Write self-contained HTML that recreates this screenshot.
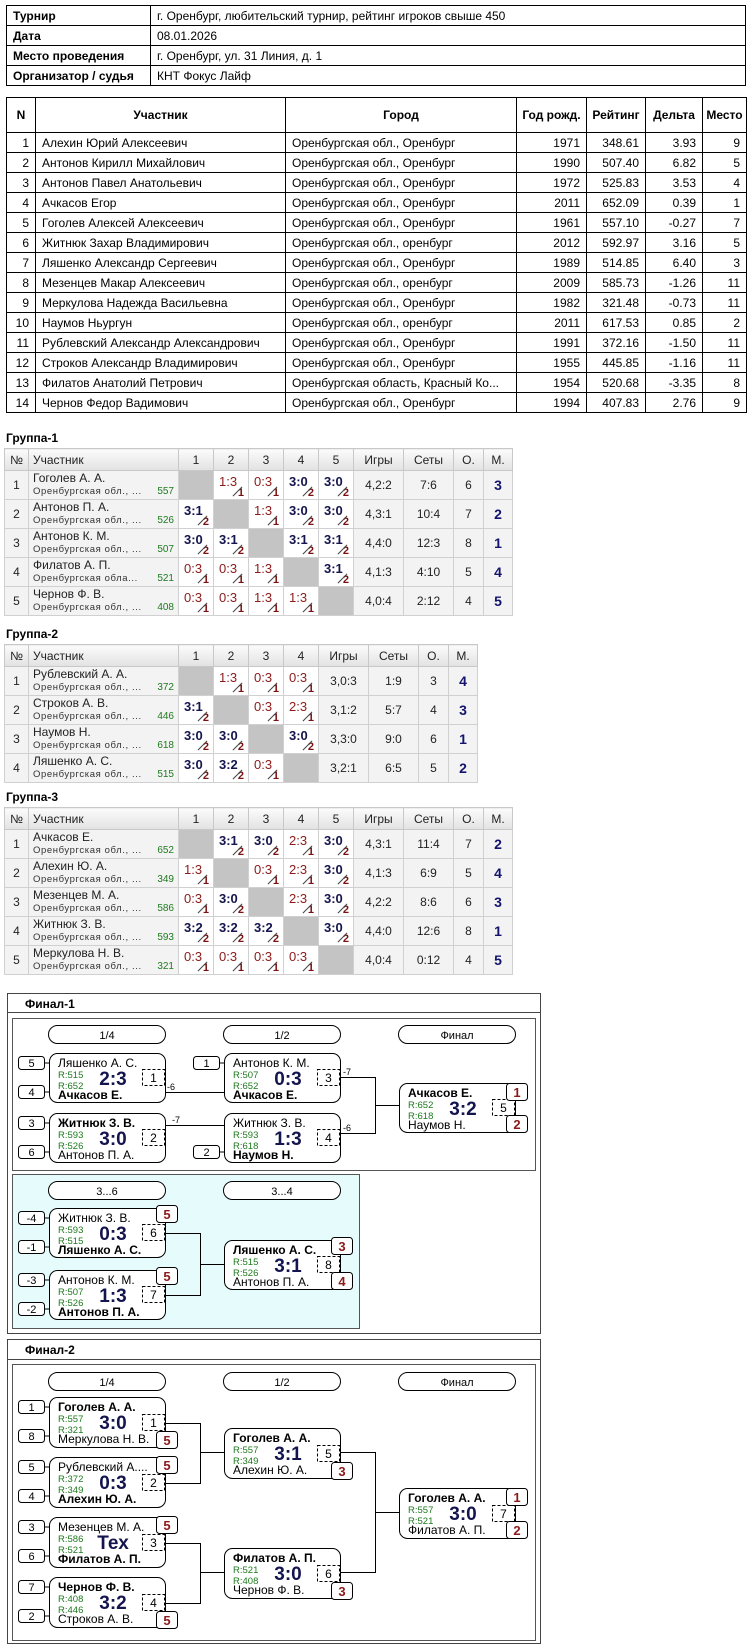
<!DOCTYPE html>
<html><head><meta charset="utf-8">
<style>
body{margin:0;background:#fff;font-family:"Liberation Sans",sans-serif;}
#pg{position:relative;width:750px;height:1647px;overflow:hidden;}
table{border-collapse:collapse;table-layout:fixed;}
.it{position:absolute;left:6px;top:5px;width:740px;font-size:12px;}
.it td{border:1px solid #000;height:19px;padding:0 6px;}
.it td.l{font-weight:bold;}
.pt{position:absolute;left:6px;top:97px;width:740px;font-size:12px;}
.pt th{border:1px solid #000;height:32px;font-weight:bold;}
.pt td{border:1px solid #000;height:19px;padding:0 6px;white-space:nowrap;overflow:hidden;}
.pt td.r{text-align:right;}
.ttl{position:absolute;left:6px;font:bold 12px "Liberation Sans",sans-serif;}
.gt{position:absolute;left:4px;font-size:12px;border:1px solid #aaa;color:#222;}
.gt th{height:21px;font-weight:normal;background:linear-gradient(#fbfbfb,#e2e2e2);border:1px solid #c8c8c8;padding:0;}
.gt th.nl{text-align:left;padding-left:4px;}
.gt td{height:28px;border:1px solid #d0d0d0;background:#f3f3f3;text-align:center;padding:0;}
.gt td.nm{text-align:left;padding:0 4px;line-height:13px;}
.nm .b{font-size:9.5px;letter-spacing:.6px;color:#333;}
.nm .b span{float:right;color:#1e7a1e;letter-spacing:0;font-size:10px;}
.gt td.x{background:#c4c4c4;}
.gt td.g{background:#fff;position:relative;}
.g .s{position:absolute;left:5px;top:3px;font-size:13px;color:#8b1a1a;}
.g.w .s{font-weight:bold;color:#14144e;}
.g .d{position:absolute;right:4px;bottom:0px;font-size:11px;font-weight:bold;color:#7a1010;}
.g:after{content:"";position:absolute;left:17px;top:20px;width:13px;height:1px;background:#444;transform:rotate(-45deg);}
.gt td.m{font-weight:bold;color:#14146e;font-size:14px;}
svg{position:absolute;left:0;top:0;}
svg text{font-family:"Liberation Sans",sans-serif;}
.mb{fill:#fff;stroke:#000;stroke-width:1;}
.n{font-size:12px;fill:#000;}
.nb{font-size:12px;font-weight:bold;fill:#000;}
.rt{font-size:9.5px;fill:#1e7a1e;}
.sc{font-size:19px;font-weight:bold;fill:#14144e;text-anchor:middle;}
.db{fill:#fff;stroke:#000;stroke-dasharray:3,2;}
.dn{font-size:12px;text-anchor:middle;}
.sd{fill:#fff;stroke:#000;}
.sdt{font-size:11px;text-anchor:middle;}
.pl{fill:#fff;stroke:#000;}
.plt{font-size:13px;font-weight:bold;fill:#8b1a1a;text-anchor:middle;}
.ln{stroke:#000;fill:none;}
.lb{font-size:9px;}
.ph{fill:#fff;stroke:#000;}
.pht{font-size:11px;text-anchor:middle;}
</style></head><body><div id="pg">

<table class="it">
<col style="width:144px"><col>
<tr><td class="l">Турнир</td><td>г. Оренбург, любительский турнир, рейтинг игроков свыше 450</td></tr>
<tr><td class="l">Дата</td><td>08.01.2026</td></tr>
<tr><td class="l">Место проведения</td><td>г. Оренбург, ул. 31 Линия, д. 1</td></tr>
<tr><td class="l">Организатор / судья</td><td>КНТ Фокус Лайф</td></tr>
</table>

<table class="pt">
<col style="width:29px"><col style="width:250px"><col style="width:231px"><col style="width:70px"><col style="width:59px"><col style="width:57px"><col style="width:44px">
<tr><th>N</th><th>Участник</th><th>Город</th><th>Год рожд.</th><th>Рейтинг</th><th>Дельта</th><th>Место</th></tr>
<tr><td class="r">1</td><td>Алехин Юрий Алексеевич</td><td>Оренбургская обл., Оренбург</td><td class="r">1971</td><td class="r">348.61</td><td class="r">3.93</td><td class="r">9</td></tr>
<tr><td class="r">2</td><td>Антонов Кирилл Михайлович</td><td>Оренбургская обл., Оренбург</td><td class="r">1990</td><td class="r">507.40</td><td class="r">6.82</td><td class="r">5</td></tr>
<tr><td class="r">3</td><td>Антонов Павел Анатольевич</td><td>Оренбургская обл., Оренбург</td><td class="r">1972</td><td class="r">525.83</td><td class="r">3.53</td><td class="r">4</td></tr>
<tr><td class="r">4</td><td>Ачкасов Егор</td><td>Оренбургская обл., Оренбург</td><td class="r">2011</td><td class="r">652.09</td><td class="r">0.39</td><td class="r">1</td></tr>
<tr><td class="r">5</td><td>Гоголев Алексей Алексеевич</td><td>Оренбургская обл., Оренбург</td><td class="r">1961</td><td class="r">557.10</td><td class="r">-0.27</td><td class="r">7</td></tr>
<tr><td class="r">6</td><td>Житнюк Захар Владимирович</td><td>Оренбургская обл., оренбург</td><td class="r">2012</td><td class="r">592.97</td><td class="r">3.16</td><td class="r">5</td></tr>
<tr><td class="r">7</td><td>Ляшенко Александр Сергеевич</td><td>Оренбургская обл., Оренбург</td><td class="r">1989</td><td class="r">514.85</td><td class="r">6.40</td><td class="r">3</td></tr>
<tr><td class="r">8</td><td>Мезенцев Макар Алексеевич</td><td>Оренбургская обл., оренбург</td><td class="r">2009</td><td class="r">585.73</td><td class="r">-1.26</td><td class="r">11</td></tr>
<tr><td class="r">9</td><td>Меркулова Надежда Васильевна</td><td>Оренбургская обл., Оренбург</td><td class="r">1982</td><td class="r">321.48</td><td class="r">-0.73</td><td class="r">11</td></tr>
<tr><td class="r">10</td><td>Наумов Ньургун</td><td>Оренбургская обл., оренбург</td><td class="r">2011</td><td class="r">617.53</td><td class="r">0.85</td><td class="r">2</td></tr>
<tr><td class="r">11</td><td>Рублевский Александр Александрович</td><td>Оренбургская обл., Оренбург</td><td class="r">1991</td><td class="r">372.16</td><td class="r">-1.50</td><td class="r">11</td></tr>
<tr><td class="r">12</td><td>Строков Александр Владимирович</td><td>Оренбургская обл., Оренбург</td><td class="r">1955</td><td class="r">445.85</td><td class="r">-1.16</td><td class="r">11</td></tr>
<tr><td class="r">13</td><td>Филатов Анатолий Петрович</td><td>Оренбургская область, Красный Ко...</td><td class="r">1954</td><td class="r">520.68</td><td class="r">-3.35</td><td class="r">8</td></tr>
<tr><td class="r">14</td><td>Чернов Федор Вадимович</td><td>Оренбургская обл., Оренбург</td><td class="r">1994</td><td class="r">407.83</td><td class="r">2.76</td><td class="r">9</td></tr>
</table>

<div class="ttl" style="top:431px">Группа-1</div>
<table class="gt" style="top:448px;width:508px">
<col style="width:24px"><col style="width:150px"><col style="width:35px"><col style="width:35px"><col style="width:35px"><col style="width:35px"><col style="width:35px"><col style="width:50px"><col style="width:50px"><col style="width:30px"><col style="width:29px">
<tr><th>№</th><th class="nl">Участник</th><th>1</th><th>2</th><th>3</th><th>4</th><th>5</th><th>Игры</th><th>Сеты</th><th>О.</th><th>М.</th></tr>
<tr><td>1</td><td class="nm"><div>Гоголев А. А.</div><div class="b">Оренбургская обл., ...<span>557</span></div></td><td class="x"></td><td class="g"><span class="s">1:3</span><span class="d">1</span></td><td class="g"><span class="s">0:3</span><span class="d">1</span></td><td class="g w"><span class="s">3:0</span><span class="d">2</span></td><td class="g w"><span class="s">3:0</span><span class="d">2</span></td><td>4,2:2</td><td>7:6</td><td>6</td><td class="m">3</td></tr>
<tr><td>2</td><td class="nm"><div>Антонов П. А.</div><div class="b">Оренбургская обл., ...<span>526</span></div></td><td class="g w"><span class="s">3:1</span><span class="d">2</span></td><td class="x"></td><td class="g"><span class="s">1:3</span><span class="d">1</span></td><td class="g w"><span class="s">3:0</span><span class="d">2</span></td><td class="g w"><span class="s">3:0</span><span class="d">2</span></td><td>4,3:1</td><td>10:4</td><td>7</td><td class="m">2</td></tr>
<tr><td>3</td><td class="nm"><div>Антонов К. М.</div><div class="b">Оренбургская обл., ...<span>507</span></div></td><td class="g w"><span class="s">3:0</span><span class="d">2</span></td><td class="g w"><span class="s">3:1</span><span class="d">2</span></td><td class="x"></td><td class="g w"><span class="s">3:1</span><span class="d">2</span></td><td class="g w"><span class="s">3:1</span><span class="d">2</span></td><td>4,4:0</td><td>12:3</td><td>8</td><td class="m">1</td></tr>
<tr><td>4</td><td class="nm"><div>Филатов А. П.</div><div class="b">Оренбургская обла...<span>521</span></div></td><td class="g"><span class="s">0:3</span><span class="d">1</span></td><td class="g"><span class="s">0:3</span><span class="d">1</span></td><td class="g"><span class="s">1:3</span><span class="d">1</span></td><td class="x"></td><td class="g w"><span class="s">3:1</span><span class="d">2</span></td><td>4,1:3</td><td>4:10</td><td>5</td><td class="m">4</td></tr>
<tr><td>5</td><td class="nm"><div>Чернов Ф. В.</div><div class="b">Оренбургская обл., ...<span>408</span></div></td><td class="g"><span class="s">0:3</span><span class="d">1</span></td><td class="g"><span class="s">0:3</span><span class="d">1</span></td><td class="g"><span class="s">1:3</span><span class="d">1</span></td><td class="g"><span class="s">1:3</span><span class="d">1</span></td><td class="x"></td><td>4,0:4</td><td>2:12</td><td>4</td><td class="m">5</td></tr>
</table>

<div class="ttl" style="top:627px">Группа-2</div>
<table class="gt" style="top:644px;width:473px">
<col style="width:24px"><col style="width:150px"><col style="width:35px"><col style="width:35px"><col style="width:35px"><col style="width:35px"><col style="width:50px"><col style="width:50px"><col style="width:30px"><col style="width:29px">
<tr><th>№</th><th class="nl">Участник</th><th>1</th><th>2</th><th>3</th><th>4</th><th>Игры</th><th>Сеты</th><th>О.</th><th>М.</th></tr>
<tr><td>1</td><td class="nm"><div>Рублевский А. А.</div><div class="b">Оренбургская обл., ...<span>372</span></div></td><td class="x"></td><td class="g"><span class="s">1:3</span><span class="d">1</span></td><td class="g"><span class="s">0:3</span><span class="d">1</span></td><td class="g"><span class="s">0:3</span><span class="d">1</span></td><td>3,0:3</td><td>1:9</td><td>3</td><td class="m">4</td></tr>
<tr><td>2</td><td class="nm"><div>Строков А. В.</div><div class="b">Оренбургская обл., ...<span>446</span></div></td><td class="g w"><span class="s">3:1</span><span class="d">2</span></td><td class="x"></td><td class="g"><span class="s">0:3</span><span class="d">1</span></td><td class="g"><span class="s">2:3</span><span class="d">1</span></td><td>3,1:2</td><td>5:7</td><td>4</td><td class="m">3</td></tr>
<tr><td>3</td><td class="nm"><div>Наумов Н.</div><div class="b">Оренбургская обл., ...<span>618</span></div></td><td class="g w"><span class="s">3:0</span><span class="d">2</span></td><td class="g w"><span class="s">3:0</span><span class="d">2</span></td><td class="x"></td><td class="g w"><span class="s">3:0</span><span class="d">2</span></td><td>3,3:0</td><td>9:0</td><td>6</td><td class="m">1</td></tr>
<tr><td>4</td><td class="nm"><div>Ляшенко А. С.</div><div class="b">Оренбургская обл., ...<span>515</span></div></td><td class="g w"><span class="s">3:0</span><span class="d">2</span></td><td class="g w"><span class="s">3:2</span><span class="d">2</span></td><td class="g"><span class="s">0:3</span><span class="d">1</span></td><td class="x"></td><td>3,2:1</td><td>6:5</td><td>5</td><td class="m">2</td></tr>
</table>

<div class="ttl" style="top:790px">Группа-3</div>
<table class="gt" style="top:807px;width:508px">
<col style="width:24px"><col style="width:150px"><col style="width:35px"><col style="width:35px"><col style="width:35px"><col style="width:35px"><col style="width:35px"><col style="width:50px"><col style="width:50px"><col style="width:30px"><col style="width:29px">
<tr><th>№</th><th class="nl">Участник</th><th>1</th><th>2</th><th>3</th><th>4</th><th>5</th><th>Игры</th><th>Сеты</th><th>О.</th><th>М.</th></tr>
<tr><td>1</td><td class="nm"><div>Ачкасов Е.</div><div class="b">Оренбургская обл., ...<span>652</span></div></td><td class="x"></td><td class="g w"><span class="s">3:1</span><span class="d">2</span></td><td class="g w"><span class="s">3:0</span><span class="d">2</span></td><td class="g"><span class="s">2:3</span><span class="d">1</span></td><td class="g w"><span class="s">3:0</span><span class="d">2</span></td><td>4,3:1</td><td>11:4</td><td>7</td><td class="m">2</td></tr>
<tr><td>2</td><td class="nm"><div>Алехин Ю. А.</div><div class="b">Оренбургская обл., ...<span>349</span></div></td><td class="g"><span class="s">1:3</span><span class="d">1</span></td><td class="x"></td><td class="g"><span class="s">0:3</span><span class="d">1</span></td><td class="g"><span class="s">2:3</span><span class="d">1</span></td><td class="g w"><span class="s">3:0</span><span class="d">2</span></td><td>4,1:3</td><td>6:9</td><td>5</td><td class="m">4</td></tr>
<tr><td>3</td><td class="nm"><div>Мезенцев М. А.</div><div class="b">Оренбургская обл., ...<span>586</span></div></td><td class="g"><span class="s">0:3</span><span class="d">1</span></td><td class="g w"><span class="s">3:0</span><span class="d">2</span></td><td class="x"></td><td class="g"><span class="s">2:3</span><span class="d">1</span></td><td class="g w"><span class="s">3:0</span><span class="d">2</span></td><td>4,2:2</td><td>8:6</td><td>6</td><td class="m">3</td></tr>
<tr><td>4</td><td class="nm"><div>Житнюк З. В.</div><div class="b">Оренбургская обл., ...<span>593</span></div></td><td class="g w"><span class="s">3:2</span><span class="d">2</span></td><td class="g w"><span class="s">3:2</span><span class="d">2</span></td><td class="g w"><span class="s">3:2</span><span class="d">2</span></td><td class="x"></td><td class="g w"><span class="s">3:0</span><span class="d">2</span></td><td>4,4:0</td><td>12:6</td><td>8</td><td class="m">1</td></tr>
<tr><td>5</td><td class="nm"><div>Меркулова Н. В.</div><div class="b">Оренбургская обл., ...<span>321</span></div></td><td class="g"><span class="s">0:3</span><span class="d">1</span></td><td class="g"><span class="s">0:3</span><span class="d">1</span></td><td class="g"><span class="s">0:3</span><span class="d">1</span></td><td class="g"><span class="s">0:3</span><span class="d">1</span></td><td class="x"></td><td>4,0:4</td><td>0:12</td><td>4</td><td class="m">5</td></tr>
</table>

<svg width="750" height="1647" viewBox="0 0 750 1647">
<rect x="7.5" y="993.5" width="533" height="340" fill="#fff" stroke="#444"/>
<text x="25" y="1008" font-size="12" font-weight="bold">Финал-1</text>
<line x1="7" y1="1012.5" x2="540" y2="1012.5" stroke="#444"/>
<rect x="12.5" y="1018.5" width="523" height="152" fill="#fff" stroke="#555"/>
<rect x="12.5" y="1174.5" width="347" height="154" fill="#e6fbfb" stroke="#555"/>

<rect class="ph" x="48.5" y="1025.5" width="117" height="18" rx="9"/><text class="pht" x="107" y="1039">1/4</text>
<rect class="ph" x="223.5" y="1025.5" width="117" height="18" rx="9"/><text class="pht" x="282" y="1039">1/2</text>
<rect class="ph" x="398.5" y="1025.5" width="117" height="18" rx="9"/><text class="pht" x="457" y="1039">Финал</text>

<g transform="translate(49,1053)">
<rect class="sd" x="-30.5" y="3.5" width="26" height="13" rx="3"/><text class="sdt" x="-17.5" y="14">5</text>
<rect class="sd" x="-30.5" y="32.5" width="26" height="13" rx="3"/><text class="sdt" x="-17.5" y="43">4</text>
<line class="ln" x1="-4" y1="10" x2="0" y2="10"/><line class="ln" x1="-4" y1="39" x2="0" y2="39"/>
<rect class="mb" x="0.5" y="0.5" width="116" height="49" rx="8"/>
<text class="n" x="9" y="14">Ляшенко А. С.</text><text class="rt" x="9" y="25">R:515</text><text class="rt" x="9" y="36">R:652</text><text class="nb" x="9" y="46">Ачкасов Е.</text>
<text class="sc" x="64" y="32">2:3</text>
<rect class="db" x="93.5" y="16.5" width="22" height="16"/><text class="dn" x="104.5" y="29">1</text>
</g>
<g transform="translate(49,1113)">
<rect class="sd" x="-30.5" y="3.5" width="26" height="13" rx="3"/><text class="sdt" x="-17.5" y="14">3</text>
<rect class="sd" x="-30.5" y="32.5" width="26" height="13" rx="3"/><text class="sdt" x="-17.5" y="43">6</text>
<line class="ln" x1="-4" y1="10" x2="0" y2="10"/><line class="ln" x1="-4" y1="39" x2="0" y2="39"/>
<rect class="mb" x="0.5" y="0.5" width="116" height="49" rx="8"/>
<text class="nb" x="9" y="14">Житнюк З. В.</text><text class="rt" x="9" y="25">R:593</text><text class="rt" x="9" y="36">R:526</text><text class="n" x="9" y="46">Антонов П. А.</text>
<text class="sc" x="64" y="32">3:0</text>
<rect class="db" x="93.5" y="16.5" width="22" height="16"/><text class="dn" x="104.5" y="29">2</text>
</g>
<g transform="translate(224,1053)">
<rect class="sd" x="-30.5" y="3.5" width="26" height="13" rx="3"/><text class="sdt" x="-17.5" y="14">1</text>
<line class="ln" x1="-4" y1="10" x2="0" y2="10"/>
<rect class="mb" x="0.5" y="0.5" width="116" height="49" rx="8"/>
<text class="n" x="9" y="14">Антонов К. М.</text><text class="rt" x="9" y="25">R:507</text><text class="rt" x="9" y="36">R:652</text><text class="nb" x="9" y="46">Ачкасов Е.</text>
<text class="sc" x="64" y="32">0:3</text>
<rect class="db" x="93.5" y="16.5" width="22" height="16"/><text class="dn" x="104.5" y="29">3</text>
</g>
<g transform="translate(224,1113)">
<rect class="sd" x="-30.5" y="32.5" width="26" height="13" rx="3"/><text class="sdt" x="-17.5" y="43">2</text>
<line class="ln" x1="-4" y1="39" x2="0" y2="39"/>
<rect class="mb" x="0.5" y="0.5" width="116" height="49" rx="8"/>
<text class="n" x="9" y="14">Житнюк З. В.</text><text class="rt" x="9" y="25">R:593</text><text class="rt" x="9" y="36">R:618</text><text class="nb" x="9" y="46">Наумов Н.</text>
<text class="sc" x="64" y="32">1:3</text>
<rect class="db" x="93.5" y="16.5" width="22" height="16"/><text class="dn" x="104.5" y="29">4</text>
</g>
<g transform="translate(399,1083)">
<rect class="mb" x="0.5" y="0.5" width="116" height="49" rx="8"/>
<text class="nb" x="9" y="14">Ачкасов Е.</text><text class="rt" x="9" y="25">R:652</text><text class="rt" x="9" y="36">R:618</text><text class="n" x="9" y="46">Наумов Н.</text>
<text class="sc" x="64" y="32">3:2</text>
<rect class="db" x="93.5" y="16.5" width="22" height="16"/><text class="dn" x="104.5" y="29">5</text>
<rect class="pl" x="107.5" y="0.5" width="21" height="17" rx="3"/><text class="plt" x="118" y="14">1</text>
<rect class="pl" x="107.5" y="32.5" width="21" height="17" rx="3"/><text class="plt" x="118" y="46">2</text>
</g>
<path class="ln" d="M165 1092.5H224 M165 1125.5H224 M340 1077.5H375.5V1133.5H340 M375 1105.5H399"/>
<text class="lb" x="167" y="1090">-6</text><text class="lb" x="172" y="1123">-7</text>
<text class="lb" x="343" y="1075">-7</text><text class="lb" x="343" y="1131">-6</text>

<rect class="ph" x="48.5" y="1181.5" width="117" height="18" rx="9"/><text class="pht" x="107" y="1195">3...6</text>
<rect class="ph" x="223.5" y="1181.5" width="117" height="18" rx="9"/><text class="pht" x="282" y="1195">3...4</text>
<g transform="translate(49,1208)">
<rect class="sd" x="-30.5" y="3.5" width="26" height="13" rx="3"/><text class="sdt" x="-17.5" y="14">-4</text>
<rect class="sd" x="-30.5" y="32.5" width="26" height="13" rx="3"/><text class="sdt" x="-17.5" y="43">-1</text>
<line class="ln" x1="-4" y1="10" x2="0" y2="10"/><line class="ln" x1="-4" y1="39" x2="0" y2="39"/>
<rect class="mb" x="0.5" y="0.5" width="116" height="49" rx="8"/>
<text class="n" x="9" y="14">Житнюк З. В.</text><text class="rt" x="9" y="25">R:593</text><text class="rt" x="9" y="36">R:515</text><text class="nb" x="9" y="46">Ляшенко А. С.</text>
<text class="sc" x="64" y="32">0:3</text>
<rect class="db" x="93.5" y="16.5" width="22" height="16"/><text class="dn" x="104.5" y="29">6</text>
<rect class="pl" x="107.5" y="-2.5" width="21" height="17" rx="3"/><text class="plt" x="118" y="11">5</text>
</g>
<g transform="translate(49,1270)">
<rect class="sd" x="-30.5" y="3.5" width="26" height="13" rx="3"/><text class="sdt" x="-17.5" y="14">-3</text>
<rect class="sd" x="-30.5" y="32.5" width="26" height="13" rx="3"/><text class="sdt" x="-17.5" y="43">-2</text>
<line class="ln" x1="-4" y1="10" x2="0" y2="10"/><line class="ln" x1="-4" y1="39" x2="0" y2="39"/>
<rect class="mb" x="0.5" y="0.5" width="116" height="49" rx="8"/>
<text class="n" x="9" y="14">Антонов К. М.</text><text class="rt" x="9" y="25">R:507</text><text class="rt" x="9" y="36">R:526</text><text class="nb" x="9" y="46">Антонов П. А.</text>
<text class="sc" x="64" y="32">1:3</text>
<rect class="db" x="93.5" y="16.5" width="22" height="16"/><text class="dn" x="104.5" y="29">7</text>
<rect class="pl" x="107.5" y="-2.5" width="21" height="17" rx="3"/><text class="plt" x="118" y="11">5</text>
</g>
<g transform="translate(224,1240)">
<rect class="mb" x="0.5" y="0.5" width="116" height="49" rx="8"/>
<text class="nb" x="9" y="14">Ляшенко А. С.</text><text class="rt" x="9" y="25">R:515</text><text class="rt" x="9" y="36">R:526</text><text class="n" x="9" y="46">Антонов П. А.</text>
<text class="sc" x="64" y="32">3:1</text>
<rect class="db" x="93.5" y="16.5" width="22" height="16"/><text class="dn" x="104.5" y="29">8</text>
<rect class="pl" x="107.5" y="-2.5" width="21" height="17" rx="3"/><text class="plt" x="118" y="11">3</text>
<rect class="pl" x="107.5" y="32.5" width="21" height="17" rx="3"/><text class="plt" x="118" y="46">4</text>
</g>
<path class="ln" d="M165 1233.5H200.5V1295.5H165 M200 1264.5H224"/>

<rect x="7.5" y="1339.5" width="533" height="304" fill="#fff" stroke="#444"/>
<text x="25" y="1354" font-size="12" font-weight="bold">Финал-2</text>
<line x1="7" y1="1359.5" x2="540" y2="1359.5" stroke="#444"/>
<rect x="12.5" y="1364.5" width="523" height="276" fill="#fff" stroke="#555"/>
<rect class="ph" x="48.5" y="1372.5" width="117" height="18" rx="9"/><text class="pht" x="107" y="1386">1/4</text>
<rect class="ph" x="223.5" y="1372.5" width="117" height="18" rx="9"/><text class="pht" x="282" y="1386">1/2</text>
<rect class="ph" x="398.5" y="1372.5" width="117" height="18" rx="9"/><text class="pht" x="457" y="1386">Финал</text>

<g transform="translate(49,1397)">
<rect class="sd" x="-30.5" y="3.5" width="26" height="13" rx="3"/><text class="sdt" x="-17.5" y="14">1</text>
<rect class="sd" x="-30.5" y="32.5" width="26" height="13" rx="3"/><text class="sdt" x="-17.5" y="43">8</text>
<line class="ln" x1="-4" y1="10" x2="0" y2="10"/><line class="ln" x1="-4" y1="39" x2="0" y2="39"/>
<rect class="mb" x="0.5" y="0.5" width="116" height="50" rx="8"/>
<text class="nb" x="9" y="14">Гоголев А. А.</text><text class="rt" x="9" y="25">R:557</text><text class="rt" x="9" y="36">R:321</text><text class="n" x="9" y="46">Меркулова Н. В.</text>
<text class="sc" x="64" y="32">3:0</text>
<rect class="db" x="93.5" y="17.5" width="22" height="16"/><text class="dn" x="104.5" y="30">1</text>
<rect class="pl" x="107.5" y="34.5" width="21" height="17" rx="3"/><text class="plt" x="118" y="48">5</text>
</g>
<g transform="translate(49,1457)">
<rect class="sd" x="-30.5" y="3.5" width="26" height="13" rx="3"/><text class="sdt" x="-17.5" y="14">5</text>
<rect class="sd" x="-30.5" y="32.5" width="26" height="13" rx="3"/><text class="sdt" x="-17.5" y="43">4</text>
<line class="ln" x1="-4" y1="10" x2="0" y2="10"/><line class="ln" x1="-4" y1="39" x2="0" y2="39"/>
<rect class="mb" x="0.5" y="0.5" width="116" height="50" rx="8"/>
<text class="n" x="9" y="14">Рублевский А....</text><text class="rt" x="9" y="25">R:372</text><text class="rt" x="9" y="36">R:349</text><text class="nb" x="9" y="46">Алехин Ю. А.</text>
<text class="sc" x="64" y="32">0:3</text>
<rect class="db" x="93.5" y="17.5" width="22" height="16"/><text class="dn" x="104.5" y="30">2</text>
<rect class="pl" x="107.5" y="-0.5" width="21" height="17" rx="3"/><text class="plt" x="118" y="13">5</text>
</g>
<g transform="translate(49,1517)">
<rect class="sd" x="-30.5" y="3.5" width="26" height="13" rx="3"/><text class="sdt" x="-17.5" y="14">3</text>
<rect class="sd" x="-30.5" y="32.5" width="26" height="13" rx="3"/><text class="sdt" x="-17.5" y="43">6</text>
<line class="ln" x1="-4" y1="10" x2="0" y2="10"/><line class="ln" x1="-4" y1="39" x2="0" y2="39"/>
<rect class="mb" x="0.5" y="0.5" width="116" height="50" rx="8"/>
<text class="n" x="9" y="14">Мезенцев М. А.</text><text class="rt" x="9" y="25">R:586</text><text class="rt" x="9" y="36">R:521</text><text class="nb" x="9" y="46">Филатов А. П.</text>
<text class="sc" x="64" y="32">Тех</text>
<rect class="db" x="93.5" y="17.5" width="22" height="16"/><text class="dn" x="104.5" y="30">3</text>
<rect class="pl" x="107.5" y="-0.5" width="21" height="17" rx="3"/><text class="plt" x="118" y="13">5</text>
</g>
<g transform="translate(49,1577)">
<rect class="sd" x="-30.5" y="3.5" width="26" height="13" rx="3"/><text class="sdt" x="-17.5" y="14">7</text>
<rect class="sd" x="-30.5" y="32.5" width="26" height="13" rx="3"/><text class="sdt" x="-17.5" y="43">2</text>
<line class="ln" x1="-4" y1="10" x2="0" y2="10"/><line class="ln" x1="-4" y1="39" x2="0" y2="39"/>
<rect class="mb" x="0.5" y="0.5" width="116" height="50" rx="8"/>
<text class="nb" x="9" y="14">Чернов Ф. В.</text><text class="rt" x="9" y="25">R:408</text><text class="rt" x="9" y="36">R:446</text><text class="n" x="9" y="46">Строков А. В.</text>
<text class="sc" x="64" y="32">3:2</text>
<rect class="db" x="93.5" y="17.5" width="22" height="16"/><text class="dn" x="104.5" y="30">4</text>
<rect class="pl" x="107.5" y="34.5" width="21" height="17" rx="3"/><text class="plt" x="118" y="48">5</text>
</g>
<g transform="translate(224,1428)">
<rect class="mb" x="0.5" y="0.5" width="116" height="50" rx="8"/>
<text class="nb" x="9" y="14">Гоголев А. А.</text><text class="rt" x="9" y="25">R:557</text><text class="rt" x="9" y="36">R:349</text><text class="n" x="9" y="46">Алехин Ю. А.</text>
<text class="sc" x="64" y="32">3:1</text>
<rect class="db" x="93.5" y="17.5" width="22" height="16"/><text class="dn" x="104.5" y="30">5</text>
<rect class="pl" x="107.5" y="34.5" width="21" height="17" rx="3"/><text class="plt" x="118" y="48">3</text>
</g>
<g transform="translate(224,1548)">
<rect class="mb" x="0.5" y="0.5" width="116" height="50" rx="8"/>
<text class="nb" x="9" y="14">Филатов А. П.</text><text class="rt" x="9" y="25">R:521</text><text class="rt" x="9" y="36">R:408</text><text class="n" x="9" y="46">Чернов Ф. В.</text>
<text class="sc" x="64" y="32">3:0</text>
<rect class="db" x="93.5" y="17.5" width="22" height="16"/><text class="dn" x="104.5" y="30">6</text>
<rect class="pl" x="107.5" y="34.5" width="21" height="17" rx="3"/><text class="plt" x="118" y="48">3</text>
</g>
<g transform="translate(399,1488)">
<rect class="mb" x="0.5" y="0.5" width="116" height="50" rx="8"/>
<text class="nb" x="9" y="14">Гоголев А. А.</text><text class="rt" x="9" y="25">R:557</text><text class="rt" x="9" y="36">R:521</text><text class="n" x="9" y="46">Филатов А. П.</text>
<text class="sc" x="64" y="32">3:0</text>
<rect class="db" x="93.5" y="17.5" width="22" height="16"/><text class="dn" x="104.5" y="30">7</text>
<rect class="pl" x="107.5" y="0.5" width="21" height="17" rx="3"/><text class="plt" x="118" y="14">1</text>
<rect class="pl" x="107.5" y="33.5" width="21" height="17" rx="3"/><text class="plt" x="118" y="47">2</text>
</g>
<path class="ln" d="M165 1423.5H200.5V1483.5H165 M200 1452.5H224 M165 1543.5H200.5V1603.5H165 M200 1572.5H224 M340 1452.5H375.5V1572.5H340 M375 1512.5H399"/>
</svg>
</div></body></html>
